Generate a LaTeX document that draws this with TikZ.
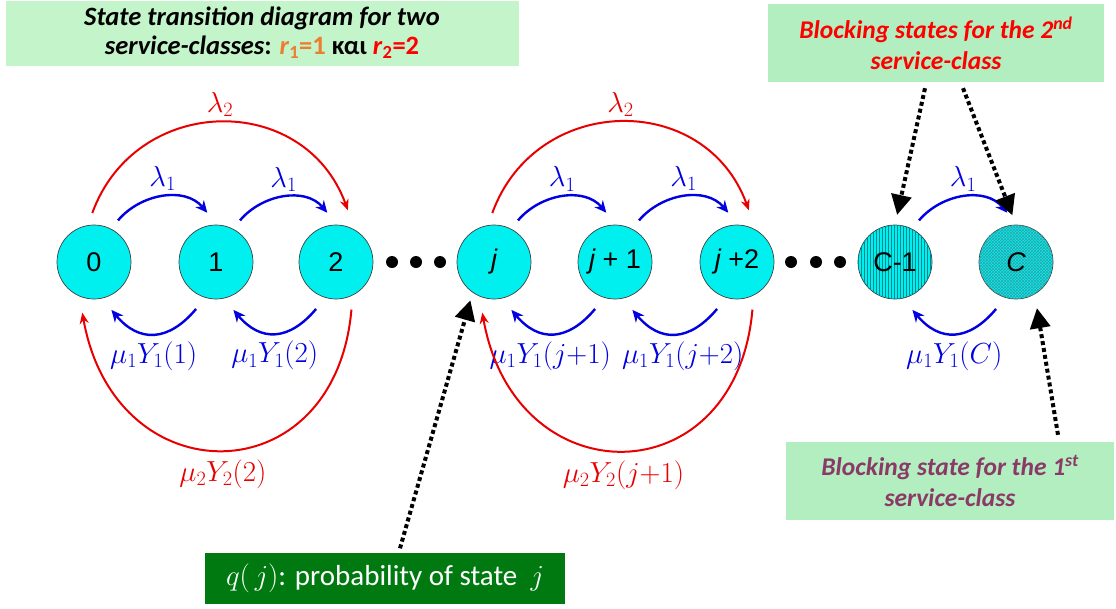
\RequirePackage{fix-cm}
\documentclass[tikz,border=0pt]{standalone}
\usepackage{fontspec}
\newfontfamily\arial{Liberation Sans}
\newfontfamily\calib{Carlito}
\usetikzlibrary{arrows.meta,calc,patterns}
\definecolor{stcyan}{HTML}{00F0F0}
\definecolor{stteal}{HTML}{008890}
\definecolor{lamblue}{HTML}{0000E0}
\definecolor{lamred}{HTML}{E80000}
\definecolor{boxgreen}{HTML}{B2EEC0}
\definecolor{titlegreen}{HTML}{C4F4CA}
\definecolor{darkgreen}{HTML}{007A10}
\definecolor{rorange}{HTML}{ED7D31}
\definecolor{plum}{HTML}{8B3A68}

\begin{document}
\begin{tikzpicture}[x=1pt,y=1pt,
  state/.style={circle, draw=black!75, line width=0.7pt, fill=stcyan, minimum size=74pt, inner sep=0pt, font=\arial\fontsize{27}{29}\selectfont},
  dotnode/.style={circle, fill=black, minimum size=12pt, inner sep=0pt},
  lamarc/.style={lamblue, line width=2.4pt, -{Stealth[length=12pt,width=11pt]}, font=\fontsize{29}{31}\selectfont},
  redarc/.style={lamred, line width=2pt, -{Stealth[length=11pt,width=9pt]}, font=\fontsize{29}{31}\selectfont},
  pointer/.style={line width=4pt, dash pattern=on 4pt off 3pt, -{Triangle[length=20pt,width=20pt]}},
  infobox/.style={fill=boxgreen, inner sep=0pt, align=center, font=\calib\fontsize{25.5}{31}\selectfont\bfseries\itshape}
]
  \useasboundingbox (0,0) rectangle (1116,-608);

  % text boxes
  \node[infobox, fill=titlegreen, font=\calib\fontsize{26.5}{29}\selectfont\bfseries\itshape, minimum width=513pt, minimum height=65pt] (title) at (262,-33)
    {State transition diagram for two\\ service-classes\upshape: {\color{rorange}\textit{r}\textsubscript{1}=1} και {\color{red}\textit{r}\textsubscript{2}=2}};
  \node[infobox, text=red, minimum width=336pt, minimum height=78pt] (blk2) at (936,-43)
    {Blocking states for the 2\textsuperscript{nd}\\ service-class};
  \node[infobox, text=plum, minimum width=328pt, minimum height=78pt] (blk1) at (950,-481)
    {Blocking state for the 1\textsuperscript{st}\\ service-class};
  \node[fill=darkgreen, text=white, minimum width=360pt, minimum height=51pt, font=\calib\fontsize{29}{31}\selectfont] (qbox) at (385,-578)
    {$q(\,j)$: probability of state \ $j$};

  % states
  \node[state] (n0) at (94,-262) {0};
  \node[state] (n1) at (216,-262) {1};
  \node[state] (n2) at (336,-262) {2};
  \node[state] (nj) at (494,-262) {\itshape j};
  \node[state] (nj1) at (615,-262) {{\itshape j} + 1};
  \node[state] (nj2) at (737,-262) {{\itshape j} +2};
  \node[state, postaction={pattern=vertical lines, pattern color=stteal}] (nc1) at (895,-262) {C-1};
  \node[state, postaction={pattern=crosshatch, pattern color=stteal!80}] (nc) at (1016,-262) {\itshape C};
  \foreach \x [count=\i] in {392,416,440,791,816,840}
    \node[dotnode] (d\i) at (\x,-262) {};

  % lambda_1 arcs
  \foreach \a/\b in {n0/n1,n1/n2,nj/nj1,nj1/nj2,nc1/nc}
    \draw[lamarc] ($(\a)+(60:48)$) to[out=50,in=130] node[midway,above=1pt] {$\lambda_1$} ($(\b)+(100:50)$);

  % mu_1 arcs
  \foreach \a/\b/\lbl/\dx in {n0/n1/1/0,n1/n2/2/0,nj/nj1/{j{+}1}/-3,nj1/nj2/{j{+}2}/8,nc1/nc/C/0}
    \draw[lamarc] ($(\b)+(247:51)$) to[out=230,in=310,looseness=1.3] node[midway,below=3pt,xshift=\dx pt] {$\mu_1Y_1(\lbl)$} ($(\a)+(290:51)$);

  % lambda_2 and mu_2 arcs
  \foreach \a/\b/\lbl in {n0/n2/2,nj/nj2/{j{+}1}} {
    \draw[redarc] ($(\a)+(92:49)$) to[out=70,in=110,looseness=1.27] node[midway,above=1pt] {$\lambda_2$} ($(\b)+(77:53)$);
    \draw[redarc] ($(\b)+(288:50)$) to[out=265,in=280,looseness=1.78] node[midway,below=5pt] {$\mu_2Y_2(\lbl)$} ($(\a)+(257:52)$);
  }

  % pointers
  \draw[pointer, shorten >=10pt] ([xshift=-11pt,yshift=-6pt]blk2.south) -- (nc1.north);
  \draw[pointer, shorten >=10pt] ([xshift=27pt,yshift=-6pt]blk2.south) -- (nc.north);
  \draw[pointer, shorten >=14pt] ([xshift=108pt,yshift=7pt]blk1.north) -- (nc.300);
  \draw[pointer, shorten >=8pt] ([xshift=15pt,yshift=4pt]qbox.north) -- (nj.235);
\end{tikzpicture}
\end{document}
